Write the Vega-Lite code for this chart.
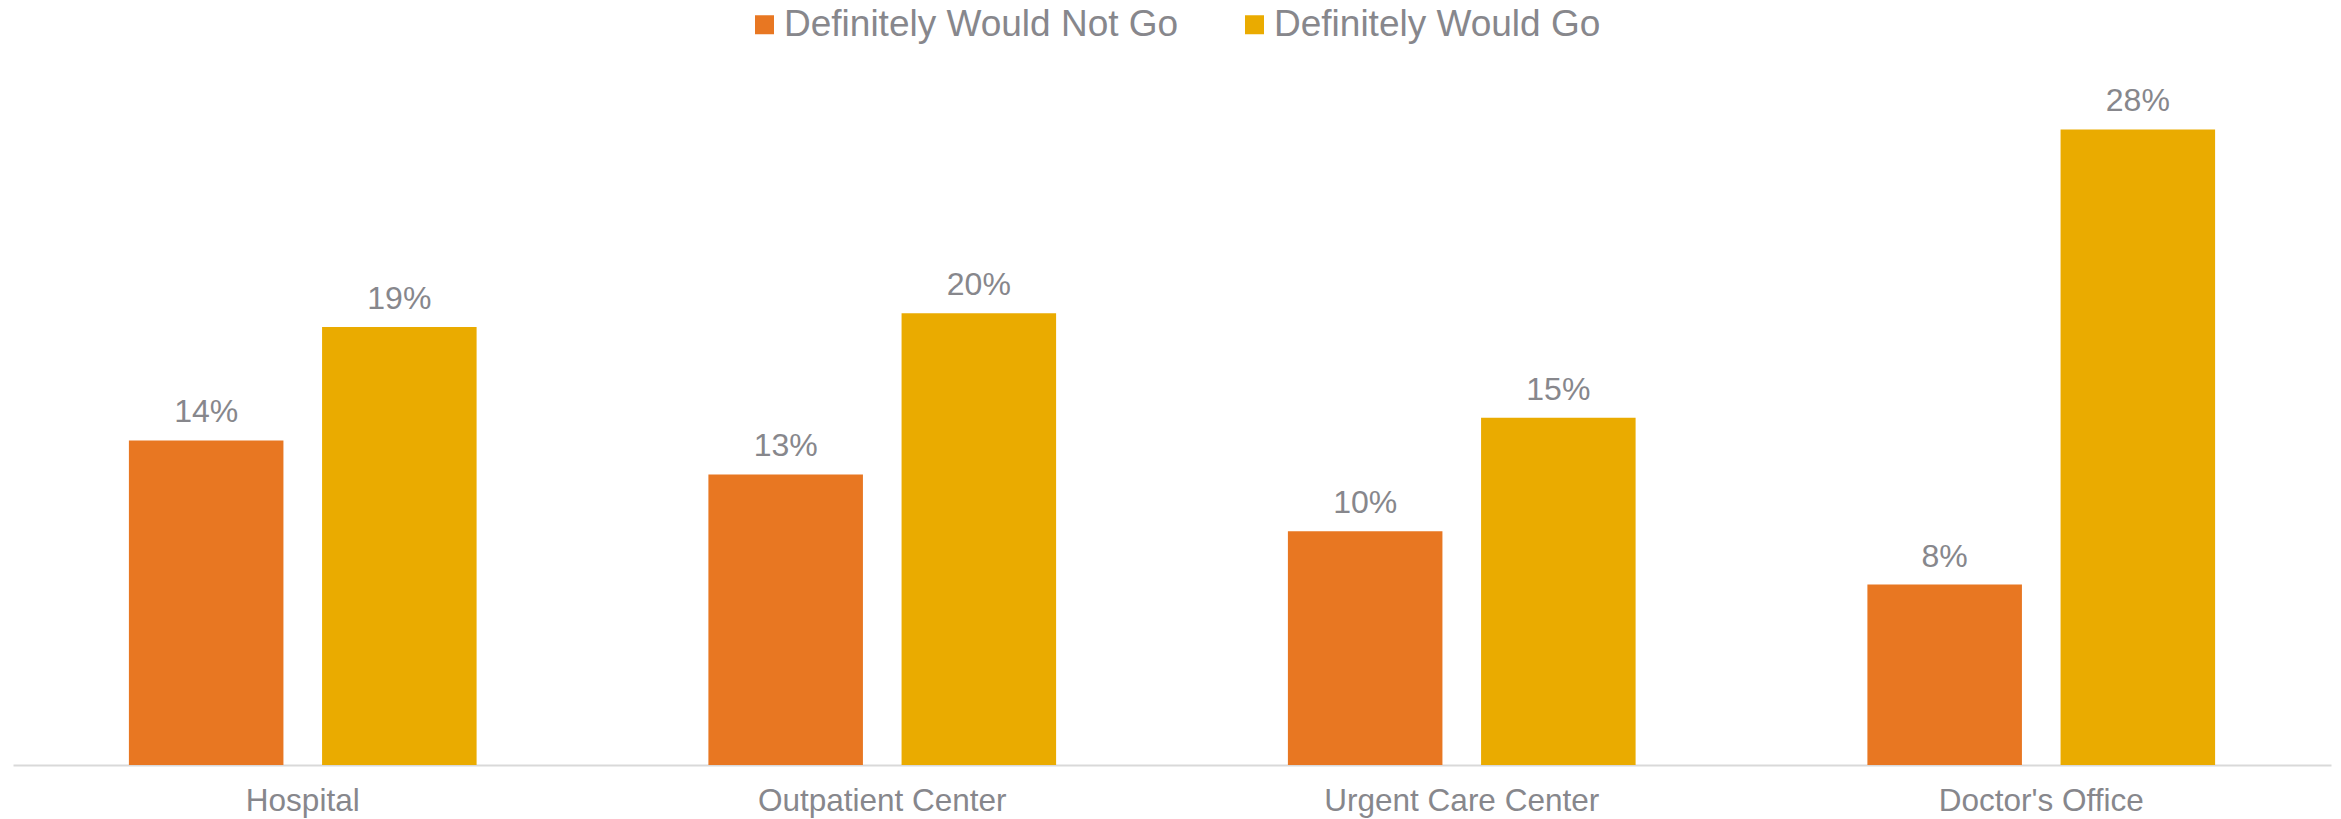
{
  "$schema": "https://vega.github.io/schema/vega-lite/v6.json",
  "width": 2318,
  "height": 681,
  "autosize": {"type": "none"},
  "padding": {"left": 13, "top": 84, "right": 10, "bottom": 54},
  "background": "white",
  "data": {
    "values": [
      {"place": "Hospital", "series": "Definitely Would Not Go", "value": 0.143},
      {"place": "Hospital", "series": "Definitely Would Go", "value": 0.193},
      {"place": "Outpatient Center", "series": "Definitely Would Not Go", "value": 0.128},
      {"place": "Outpatient Center", "series": "Definitely Would Go", "value": 0.199},
      {"place": "Urgent Care Center", "series": "Definitely Would Not Go", "value": 0.103},
      {"place": "Urgent Care Center", "series": "Definitely Would Go", "value": 0.153},
      {"place": "Doctor's Office", "series": "Definitely Would Not Go", "value": 0.0795},
      {"place": "Doctor's Office", "series": "Definitely Would Go", "value": 0.28}
    ]
  },
  "encoding": {
    "x": {
      "field": "place", "type": "nominal",
      "sort": ["Hospital", "Outpatient Center", "Urgent Care Center", "Doctor's Office"],
      "scale": {"paddingInner": 0.4, "paddingOuter": 0.2},
      "axis": {
        "title": null, "labelAngle": 0, "ticks": false, "tickSize": 0,
        "labelPadding": 20, "labelFont": "Liberation Sans", "labelFontSize": 31.5,
        "labelColor": "#87878c", "domainColor": "#d9d9d9", "domainWidth": 2,
        "grid": false, "labelLimit": 1000
      }
    },
    "xOffset": {
      "field": "series", "type": "nominal",
      "sort": ["Definitely Would Not Go", "Definitely Would Go"],
      "scale": {"paddingInner": 0.2, "paddingOuter": 0}
    },
    "y": {
      "field": "value", "type": "quantitative",
      "scale": {"domain": [0, 0.3], "nice": false},
      "axis": null
    }
  },
  "layer": [
    {
      "mark": {"type": "bar"},
      "encoding": {
        "color": {
          "field": "series", "type": "nominal",
          "sort": ["Definitely Would Not Go", "Definitely Would Go"],
          "scale": {"domain": ["Definitely Would Not Go", "Definitely Would Go"], "range": ["#E87722", "#EAAB00"]},
          "legend": {
            "title": null, "orient": "none", "direction": "horizontal",
            "legendX": 733, "legendY": -78, "padding": 0,
            "symbolType": "square", "symbolSize": 361, "symbolStrokeWidth": 0,
            "labelFont": "Liberation Sans", "labelFontSize": 37, "labelColor": "#87878c",
            "labelOffset": 1, "columnPadding": 57, "labelLimit": 1000
          }
        }
      }
    },
    {
      "mark": {"type": "text", "baseline": "alphabetic", "align": "center", "dy": -18, "font": "Liberation Sans", "fontSize": 32, "color": "#87878c"},
      "encoding": {
        "text": {"field": "value", "type": "quantitative", "format": ".0%"}
      }
    }
  ],
  "config": {"view": {"stroke": null}}
}
